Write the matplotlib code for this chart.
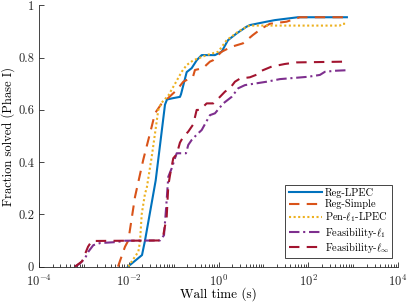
import numpy as np
import matplotlib
matplotlib.use("Agg")
import matplotlib.pyplot as plt
from matplotlib.ticker import FixedLocator, LogLocator, NullFormatter

plt.rcParams['font.family'] = 'serif'
plt.rcParams['font.serif'] = ['cmr10']
plt.rcParams['mathtext.fontset'] = 'cm'
plt.rcParams['axes.formatter.use_mathtext'] = True

# log10(wall time) and fraction solved
reg_lpec_lt = [-2.018, -1.706, -1.639, -1.401, -1.194, -1.149, -1.016, -0.860, -0.837, -0.710, -0.599,
               -0.488, -0.376, -0.080, 0.069, 0.209, 0.403, 0.626, 0.699, 1.071, 1.256, 1.768, 2.860]
reg_lpec_f = [0.0, 0.044, 0.10, 0.33, 0.62, 0.64, 0.645, 0.65, 0.66, 0.745, 0.76,
              0.79, 0.81, 0.81, 0.823, 0.867, 0.893, 0.919, 0.925, 0.938, 0.944, 0.955, 0.955]

reg_simple_lt = [-2.241, -2.085, -2.011, -1.862, -1.677, -1.528, -1.416, -1.267, -1.127, -0.933, -0.786,
                 -0.570, -0.526, -0.347, -0.192, -0.125, 0.069, 0.292, 0.543, 0.766, 0.960, 1.145,
                 1.517, 1.813, 2.853]
reg_simple_f = [0.0, 0.076, 0.10, 0.267, 0.41, 0.51, 0.587, 0.625, 0.645, 0.676, 0.708,
                0.727, 0.753, 0.76, 0.785, 0.79, 0.823, 0.842, 0.855, 0.887, 0.912, 0.93,
                0.938, 0.955, 0.955]

pen_l1_lt = [-2.011, -1.788, -1.751, -1.713, -1.639, -1.601, -1.490, -1.416, -1.343, -1.267, -1.120,
             -0.971, -0.822, -0.710, -0.563, -0.265, -0.007, 0.180, 0.439, 0.626, 0.699, 2.704,
             2.742, 2.853]
pen_l1_f = [0.0, 0.057, 0.095, 0.2, 0.28, 0.30, 0.42, 0.51, 0.60, 0.628, 0.655,
            0.70, 0.746, 0.772, 0.79, 0.81, 0.823, 0.867, 0.90, 0.919, 0.923, 0.923,
            0.93, 0.93]

feas_l1_lt = [-3.198, -3.087, -2.976, -2.902, -2.791, -2.641, -2.269, -2.085, -1.305, -1.216, -1.171,
              -1.120, -1.045, -0.971, -0.933, -0.726, -0.675, -0.599, -0.488, -0.376, -0.192, -0.080,
              0.105, 0.292, 0.439, 0.588, 0.849, 1.071, 1.367, 1.998, 2.258, 2.370, 2.592, 2.853]
feas_l1_f = [0.0, 0.012, 0.032, 0.057, 0.082, 0.09, 0.094, 0.099, 0.10, 0.12, 0.22,
             0.344, 0.376, 0.415, 0.434, 0.434, 0.466, 0.485, 0.505, 0.523, 0.58, 0.587,
             0.625, 0.65, 0.683, 0.695, 0.702, 0.708, 0.718, 0.727, 0.734, 0.746, 0.75, 0.752]

feas_linf_lt = [-3.198, -3.042, -2.909, -2.826, -1.305, -1.232, -1.156, -1.120, -1.082, -1.009, -0.933,
                -0.860, -0.793, -0.675, -0.563, -0.488, -0.414, -0.265, -0.118, 0.031, 0.143, 0.254,
                0.365, 0.477, 0.699, 0.922, 0.959, 1.183, 1.479, 1.739, 2.853]
feas_linf_f = [0.0, 0.02, 0.076, 0.098, 0.10, 0.12, 0.19, 0.31, 0.35, 0.415, 0.43,
               0.475, 0.495, 0.517, 0.545, 0.60, 0.60, 0.625, 0.625, 0.65, 0.67, 0.683,
               0.708, 0.72, 0.725, 0.74, 0.75, 0.766, 0.776, 0.782, 0.785]

labels = ['Reg-LPEC', 'Reg-Simple', r'Pen-$\ell_1$-LPEC', r'Feasibility-$\ell_1$', r'Feasibility-$\ell_\infty$']
colors = ['#0072BD', '#D95319', '#EDB120', '#7E2F8E', '#A2142F']

fig = plt.figure(figsize=(4.07, 3.05), dpi=100)
ax = fig.add_axes([0.096, 0.126, 0.882, 0.856])

series = [(reg_lpec_lt, reg_lpec_f), (reg_simple_lt, reg_simple_f), (pen_l1_lt, pen_l1_f),
          (feas_l1_lt, feas_l1_f), (feas_linf_lt, feas_linf_f)]
styles = [dict(linestyle='-'), dict(linestyle=(0, (5, 3.5))), dict(linestyle=(0, (1, 1.2))),
          dict(linestyle=(0, (5, 1.8, 1, 1.8))), dict(linestyle=(0, (5, 3.5)))]

for (lt, f), lab, c, st in zip(series, labels, colors, styles):
    ax.plot(10 ** np.array(lt), f, color=c, lw=1.5, label=lab, **st)

ax.set_xscale('log')
ax.set_xlim(1e-4, 1e4)
ax.set_ylim(0, 1)
ax.xaxis.set_major_locator(FixedLocator([1e-4, 1e-2, 1e0, 1e2, 1e4]))
ax.xaxis.set_minor_locator(LogLocator(base=10, subs=np.arange(1, 10), numticks=30))
ax.xaxis.set_minor_formatter(NullFormatter())
ax.set_xticklabels([r'$10^{-4}$', r'$10^{-2}$', r'$10^{0}$', r'$10^{2}$', r'$10^{4}$'])
ax.set_yticks([0, 0.2, 0.4, 0.6, 0.8, 1])
ax.set_yticklabels(['0', '0.2', '0.4', '0.6', '0.8', '1'])

for s in ['top', 'right']:
    ax.spines[s].set_visible(False)
for s in ['left', 'bottom']:
    ax.spines[s].set_color('#262626')
    ax.spines[s].set_linewidth(0.6)
ax.tick_params(which='both', direction='in', colors='#262626', labelsize=9, width=0.6)
ax.tick_params(which='major', length=3.5)
ax.tick_params(which='minor', length=2)
ax.tick_params(axis='x', which='major', pad=5)

ax.set_xlabel('Wall time (s)', fontsize=9.5)
ax.set_ylabel('Fraction solved (Phase I)', fontsize=9)
ax.xaxis.set_label_coords(0.5, -0.08)
ax.yaxis.set_label_coords(-0.066, 0.5)

leg = ax.legend(loc='lower right', bbox_to_anchor=(0.99, 0.025), fontsize=7.5, fancybox=False,
                framealpha=1, edgecolor='#262626', handlelength=3.2, handletextpad=0.3,
                borderpad=0.3, labelspacing=0.12, borderaxespad=0.2)
leg.get_frame().set_linewidth(0.6)

fig.savefig('out.png', dpi=100)
